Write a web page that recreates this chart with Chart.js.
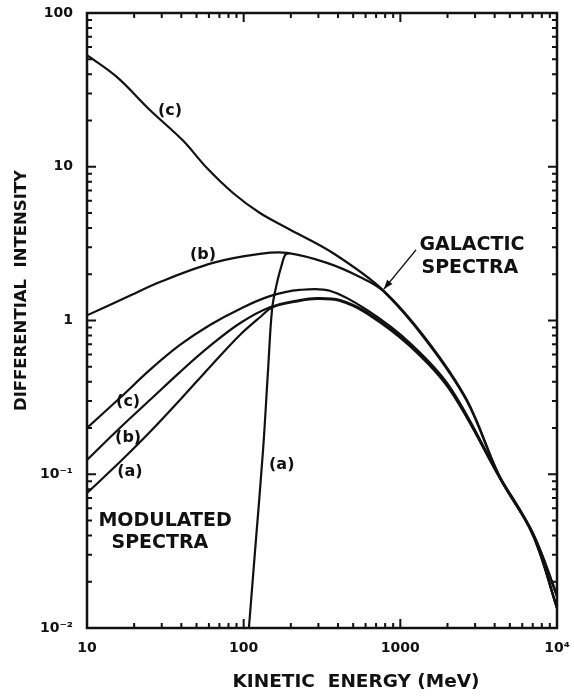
<!DOCTYPE html>
<html>
<head>
<meta charset="utf-8">
<script src="https://cdn.jsdelivr.net/npm/chart.js@4.4.1/dist/chart.umd.min.js"></script>
<style>
  html, body { margin: 0; padding: 0; background: #fff; }
  #wrap { width: 574px; height: 700px; }
</style>
</head>
<body>
<div id="wrap"><canvas id="spectra"></canvas></div>
<script>
// kinetic energy (MeV) / differential intensity

// galactic spectra
const galC_E = [10, 15.5, 25.2, 41.0, 58.3, 85.5, 127, 189, 371, 774, 1479, 2663, 4322, 7020, 10000];
const galC_I = [53.3, 38.4, 23.4, 14.8, 9.8, 6.75, 5.0, 4.0, 2.75, 1.58, 0.746, 0.304, 0.096, 0.0415, 0.0165];

const galB_E = [10, 18, 29.2, 63.7, 127, 189, 340, 552, 774, 1479, 2663, 4322, 7020, 10000];
const galB_I = [1.08, 1.42, 1.78, 2.37, 2.71, 2.75, 2.37, 1.92, 1.56, 0.73, 0.298, 0.095, 0.041, 0.016];

const galA_E = [108, 118, 133, 143, 152, 163, 175, 184, 197];
const galA_I = [0.01, 0.031, 0.144, 0.47, 1.2, 1.75, 2.3, 2.67, 2.75];

// modulated spectra
const modC_E = [10, 16.2, 25.2, 39.2, 60.9, 94.6, 147, 228, 355, 612, 1152, 2074, 4322, 7020, 10000];
const modC_I = [0.2, 0.313, 0.477, 0.693, 0.935, 1.19, 1.44, 1.58, 1.56, 1.17, 0.714, 0.369, 0.096, 0.041, 0.0135];

const modB_E = [10, 16.2, 25.2, 39.2, 60.9, 94.6, 147, 228, 294, 412, 612, 1152, 2074, 4322, 7020, 10000];
const modB_I = [0.124, 0.2, 0.304, 0.462, 0.683, 0.96, 1.22, 1.36, 1.40, 1.36, 1.13, 0.693, 0.358, 0.095, 0.0405, 0.0135];

const modA_E = [10, 16.2, 25.2, 39.2, 60.9, 94.6, 127, 153, 228, 294, 412, 612, 1152, 2074, 4322, 7020, 10000];
const modA_I = [0.0755, 0.120, 0.188, 0.304, 0.499, 0.805, 1.05, 1.22, 1.34, 1.38, 1.34, 1.11, 0.68, 0.352, 0.094, 0.040, 0.0135];

// axes
const xMajor = [10, 100, 1000, 10000];
const xTickText = ['10', '100', '1000', '10\u2074'];
const yMajor = [0.01, 0.1, 1, 10, 100];
const yTickText = ['10\u207B\u00B2', '10\u207B\u00B9', '1', '10', '100'];
const xTitle = 'KINETIC  ENERGY (MeV)';
const yTitle = 'DIFFERENTIAL  INTENSITY';

// curve labels, placed in data coordinates
const notes = [
  { text: '(c)', e: 33.9, j: 23.1, size: 16 },
  { text: '(b)', e: 55, j: 2.67, size: 16 },
  { text: '(c)', e: 18.3, j: 0.295, size: 16 },
  { text: '(b)', e: 18.3, j: 0.172, size: 16 },
  { text: '(a)', e: 18.8, j: 0.104, size: 16 },
  { text: '(a)', e: 175, j: 0.115, size: 16 },
  { text: 'MODULATED', e: 31.5, j: 0.0497, size: 19 },
  { text: 'SPECTRA', e: 29.2, j: 0.0357, size: 19 },
  { text: 'GALACTIC', e: 2865, j: 3.1, size: 19 },
  { text: 'SPECTRA', e: 2780, j: 2.19, size: 19 }
];
const arrow = { from: [1259, 2.88], to: [785, 1.6] };

const FONT = "'DejaVu Sans', sans-serif";
const INK = '#111';

function curve(es, is) {
  return es.map((e, i) => ({ x: e, y: is[i] }));
}

function line(es, is) {
  return {
    data: curve(es, is),
    showLine: true,
    borderColor: INK,
    borderWidth: 2.2,
    pointRadius: 0,
    tension: 0.35,
    fill: false
  };
}

const decorations = {
  id: 'decorations',
  afterDraw(chart) {
    const { ctx, chartArea: a, scales: { x, y } } = chart;
    ctx.save();
    ctx.strokeStyle = INK;
    ctx.fillStyle = INK;
    ctx.lineWidth = 2;

    // inward ticks on all four sides
    ctx.beginPath();
    for (let d = 1; d <= 3; d++) {
      for (let k = 1; k <= 9; k++) {
        const px = x.getPixelForValue(k * Math.pow(10, d));
        const len = k === 1 ? 9 : 5;
        ctx.moveTo(px, a.bottom); ctx.lineTo(px, a.bottom - len);
        ctx.moveTo(px, a.top); ctx.lineTo(px, a.top + len);
      }
    }
    for (let d = -2; d <= 1; d++) {
      for (let k = 1; k <= 9; k++) {
        const py = y.getPixelForValue(k * Math.pow(10, d));
        const len = k === 1 ? 9 : 5;
        ctx.moveTo(a.left, py); ctx.lineTo(a.left + len, py);
        ctx.moveTo(a.right, py); ctx.lineTo(a.right - len, py);
      }
    }
    ctx.stroke();

    ctx.lineWidth = 2.5;
    ctx.strokeRect(a.left, a.top, a.right - a.left, a.bottom - a.top);

    // labels on the curves
    ctx.textAlign = 'center';
    ctx.textBaseline = 'middle';
    notes.forEach(n => {
      ctx.font = 'bold ' + n.size + 'px ' + FONT;
      ctx.fillText(n.text, x.getPixelForValue(n.e), y.getPixelForValue(n.j));
    });

    // arrow to the galactic spectra
    const x0 = x.getPixelForValue(arrow.from[0]), y0 = y.getPixelForValue(arrow.from[1]);
    const x1 = x.getPixelForValue(arrow.to[0]), y1 = y.getPixelForValue(arrow.to[1]);
    const ang = Math.atan2(y1 - y0, x1 - x0);
    ctx.lineWidth = 1.5;
    ctx.beginPath();
    ctx.moveTo(x0, y0); ctx.lineTo(x1, y1);
    ctx.stroke();
    ctx.beginPath();
    ctx.moveTo(x1, y1);
    ctx.lineTo(x1 - 10 * Math.cos(ang - 0.35), y1 - 10 * Math.sin(ang - 0.35));
    ctx.lineTo(x1 - 10 * Math.cos(ang + 0.35), y1 - 10 * Math.sin(ang + 0.35));
    ctx.closePath();
    ctx.fill();

    // axis titles
    ctx.font = 'bold 18.5px ' + FONT;
    ctx.fillText(xTitle, (a.left + a.right) / 2 + 34, 682);
    ctx.translate(22, (a.top + a.bottom) / 2 - 30);
    ctx.rotate(-Math.PI / 2);
    ctx.font = 'bold 16.5px ' + FONT;
    ctx.fillText(yTitle, 0, 0);
    ctx.restore();
  }
};

const tickFont = { family: FONT, weight: 'bold', size: 14 };

new Chart(document.getElementById('spectra'), {
  type: 'scatter',
  data: {
    datasets: [
      line(galC_E, galC_I),
      line(galB_E, galB_I),
      line(galA_E, galA_I),
      line(modC_E, modC_I),
      line(modB_E, modB_I),
      line(modA_E, modA_I)
    ]
  },
  options: {
    responsive: true,
    maintainAspectRatio: false,
    animation: false,
    layout: { padding: { top: 13, right: 17, left: 0, bottom: 0 } },
    plugins: {
      legend: { display: false },
      tooltip: { enabled: false }
    },
    scales: {
      x: {
        type: 'logarithmic',
        min: 10,
        max: 10000,
        grid: { display: false, drawTicks: false },
        border: { display: false },
        afterBuildTicks: s => { s.ticks = xMajor.map(v => ({ value: v })); },
        afterFit: s => { s.height = 72; s.paddingLeft = 0; s.paddingRight = 0; },
        ticks: {
          autoSkip: false,
          maxRotation: 0,
          padding: 12,
          color: INK,
          font: tickFont,
          callback: v => xTickText[xMajor.indexOf(v)] || ''
        }
      },
      y: {
        type: 'logarithmic',
        min: 0.01,
        max: 100,
        grid: { display: false, drawTicks: false },
        border: { display: false },
        afterBuildTicks: s => { s.ticks = yMajor.map(v => ({ value: v })); },
        afterFit: s => { s.width = 87; s.paddingTop = 0; s.paddingBottom = 0; },
        ticks: {
          autoSkip: false,
          padding: 14,
          color: INK,
          font: tickFont,
          callback: v => yTickText[yMajor.indexOf(v)] || ''
        }
      }
    }
  },
  plugins: [decorations]
});
</script>
</body>
</html>
